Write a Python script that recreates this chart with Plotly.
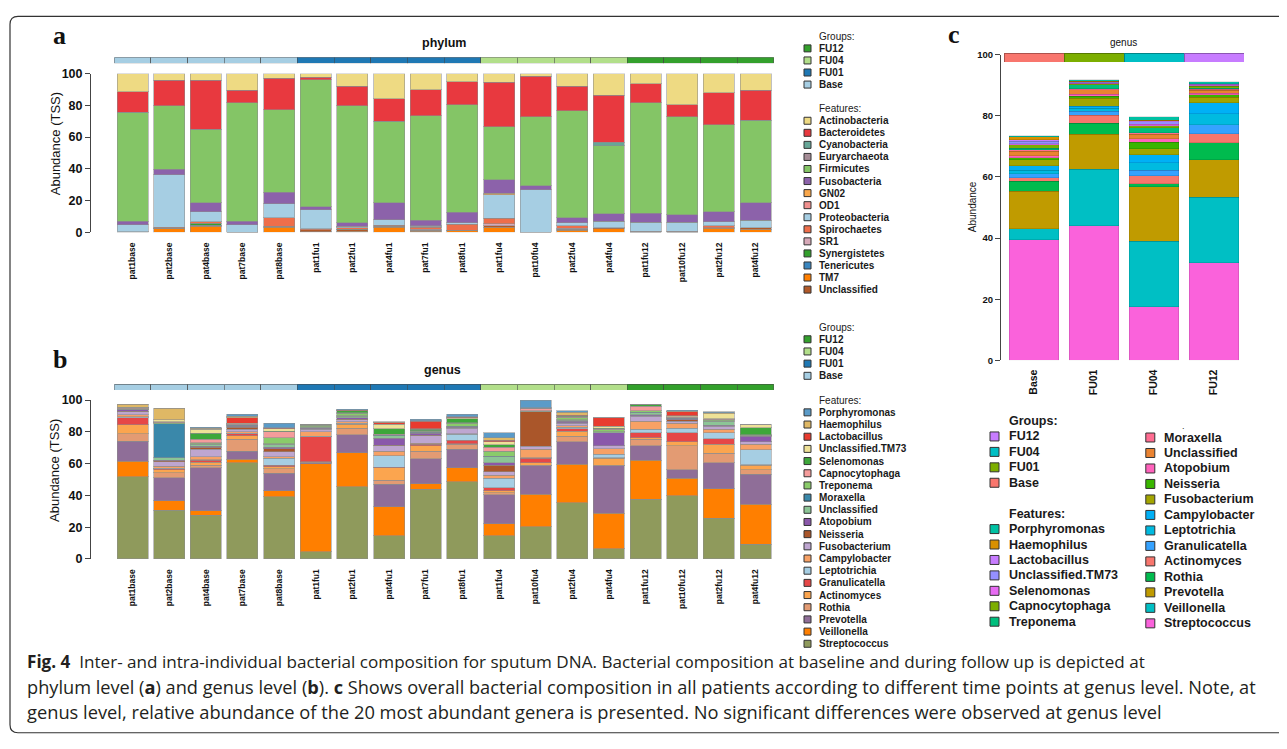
import plotly.graph_objects as go

# The figure is sized to fit the page (browser body keeps an 8px margin) and
# page-pixel positions are converted to paper fractions; the vertical
# conversion compensates the small vertical rescale seen in the screenshot.
PAGE_W, PAGE_H, MARGIN = 1287, 749, 8
W, H = PAGE_W - 2 * MARGIN, PAGE_H - 2 * MARGIN
SY, OY = 0.9817, 5.8
def fx(p): return (p - MARGIN) / W
def fy(t): return 1 - ((t - OY) / SY - MARGIN) / H

FONT = "Liberation Sans, Arial, sans-serif"

# ---------------- data ----------------
samples = ["pat1base", "pat2base", "pat4base", "pat7base", "pat8base",
           "pat1fu1", "pat2fu1", "pat4fu1", "pat7fu1", "pat8fu1",
           "pat1fu4", "pat10fu4", "pat2fu4", "pat4fu4",
           "pat1fu12", "pat10fu12", "pat2fu12", "pat4fu12"]
sample_groups = ["Base"] * 5 + ["FU01"] * 5 + ["FU04"] * 4 + ["FU12"] * 4
group_legend = ["FU12", "FU04", "FU01", "Base"]

# phylum level (panel a), relative abundance per sample
p_Actinobacteria = [11.3, 4.2, 4.3, 10.5, 2.9, 2.3, 8.0, 16.0, 10.1, 5.0, 5.5, 1.7, 8.0, 13.7, 6.5, 19.5, 12.1, 10.6]
p_Bacteroidetes = [13.1, 16.0, 30.8, 8.0, 19.8, 1.5, 12.2, 14.0, 16.6, 14.7, 28.1, 25.6, 15.5, 29.6, 11.8, 7.8, 20.1, 18.9]
p_Cyanobacteria = [0, 0, 0, 0, 0, 0, 0, 0, 0, 0, 0, 0, 0, 2.1, 0, 0, 0, 0]
p_Euryarchaeota = [0, 0, 0, 0, 0, 0, 0, 0, 0, 0, 0, 0, 0, 0, 0, 0, 0, 0]
p_Firmicutes = [68.7, 40.1, 46.5, 74.6, 52.1, 80.2, 73.9, 51.5, 65.9, 67.7, 33.4, 43.5, 67.5, 43.0, 69.7, 61.8, 54.9, 52.1]
p_Fusobacteria = [2.3, 3.4, 5.4, 2.1, 7.3, 1.9, 2.1, 10.7, 3.2, 6.7, 8.4, 2.5, 3.1, 4.7, 5.7, 4.8, 6.3, 11.0]
p_GN02 = [0, 0, 0, 0, 0, 0, 0, 0, 0, 0, 1.1, 0, 0, 0, 0, 0, 0, 0]
p_OD1 = [0, 0, 0, 0, 0, 0, 0.5, 0, 0.4, 0, 0, 0, 0, 0, 0, 0, 0, 0]
p_Proteobacteria = [4.3, 33.1, 6.5, 4.8, 8.9, 12.0, 0.5, 3.4, 0.8, 0.9, 14.7, 26.7, 2.0, 4.2, 5.7, 5.5, 2.7, 4.7]
p_Spirochaetes = [0, 0.6, 0.8, 0, 5.2, 0.6, 1.0, 0.6, 1.3, 3.7, 3.5, 0, 1.3, 0, 0, 0, 1.0, 0]
p_SR1 = [0, 0, 0, 0, 0, 0, 0, 0, 0.5, 0, 1.1, 0, 0.8, 0, 0.6, 0.6, 0, 0]
p_Synergistetes = [0, 0, 1.4, 0, 0, 0, 0.3, 0, 0, 0, 0, 0, 0, 0, 0, 0, 0, 0]
p_Tenericutes = [0, 0, 0.3, 0, 0, 0, 0, 0, 0, 0, 0, 0, 0, 0, 0, 0, 0, 0]
p_TM7 = [0, 2.3, 3.7, 0, 3.2, 0.3, 0.7, 3.2, 0.6, 0.9, 3.2, 0, 1.2, 2.1, 0, 0, 2.5, 1.7]
p_Unclassified = [0.3, 0.3, 0.3, 0, 0.6, 1.2, 0.8, 0.6, 0.6, 0.4, 1.0, 0, 0.6, 0.6, 0, 0, 0.4, 1.0]

# genus level (panel b), relative abundance per sample
g_Porphyromonas = [0.2, 0, 0.8, 1.1, 2.8, 0, 0.3, 0.3, 0.7, 1.4, 3.2, 4.8, 0.7, 0, 0, 0.5, 0.5, 0]
g_Haemophilus = [1.6, 7.1, 0.3, 1.0, 0.3, 0, 0.2, 0.2, 0.3, 0.3, 1.7, 0.2, 2.0, 0, 0, 0.3, 0.5, 0]
g_Lactobacillus = [0.2, 0, 0.3, 3.5, 0.2, 0, 0.2, 1.0, 4.9, 0.3, 1.0, 0, 0.2, 5.3, 0, 2.7, 0.2, 0]
g_UnclassifiedTM73 = [0.3, 1.4, 2.4, 0.4, 1.7, 0, 0.3, 2.7, 0.3, 0.7, 1.9, 0, 0.5, 1.4, 0, 0.4, 3.0, 1.7]
g_Selenomonas = [0.2, 0.2, 3.9, 0.3, 0.4, 0.4, 1.1, 3.6, 0.8, 2.7, 1.3, 0, 0.5, 0.6, 1.3, 0.3, 0.3, 4.6]
g_Capnocytophaga = [0.3, 0.3, 2.1, 0.4, 3.6, 0.2, 0.4, 0.3, 0.3, 0.3, 2.7, 1.5, 0.3, 0.3, 2.9, 0.4, 0.4, 0.2]
g_Treponema = [0.3, 0.6, 0.8, 0.3, 3.9, 0.8, 1.5, 0.4, 0.8, 1.9, 3.2, 0.2, 1.2, 1.2, 0.8, 0.3, 0.5, 0.2]
g_Moraxella = [0.2, 21.6, 0.3, 0.3, 0.3, 0.3, 0.2, 0.3, 0.2, 0.2, 0.3, 0.2, 0.4, 0.2, 0.3, 0.3, 0.3, 0.2]
g_Unclassified = [0.3, 1.5, 1.2, 0.3, 1.7, 0.8, 1.0, 1.5, 0.5, 0.4, 3.8, 0.2, 0.8, 0.4, 1.4, 0.3, 2.6, 0.3]
g_Atopobium = [0.8, 0.4, 0.7, 0.4, 1.0, 0.3, 1.0, 4.5, 1.3, 0.3, 1.3, 0.2, 0.9, 8.2, 0.4, 0.4, 0.3, 3.2]
g_Neisseria = [0.3, 0.6, 1.2, 1.4, 1.9, 0.3, 0.3, 0.3, 0.3, 0.3, 4.2, 21.6, 0.3, 0.2, 0.3, 0.8, 0.3, 0.3]
g_Fusobacterium = [1.9, 2.7, 4.6, 1.5, 3.1, 1.5, 1.4, 3.2, 4.6, 3.3, 2.1, 1.9, 1.5, 1.7, 3.1, 1.5, 2.0, 1.5]
g_Campylobacter = [1.4, 1.2, 2.0, 1.0, 1.1, 3.0, 0.8, 3.1, 0.4, 0.5, 2.1, 5.2, 1.0, 3.6, 5.2, 3.1, 2.1, 3.3]
g_Leptotrichia = [0.5, 0.4, 0.3, 0.3, 4.4, 0.2, 0.3, 7.1, 0.3, 3.6, 6.0, 0.3, 0.8, 2.1, 2.1, 2.7, 3.8, 9.4]
g_Granulicatella = [4.6, 0.8, 1.3, 1.4, 0.8, 15.9, 0.4, 0.3, 1.0, 2.3, 1.9, 2.9, 1.7, 0.4, 3.2, 5.7, 3.6, 0.3]
g_Actinomyces = [5.5, 1.7, 1.7, 2.1, 1.5, 0.2, 2.5, 7.9, 3.2, 0.4, 1.3, 1.8, 3.2, 4.4, 1.0, 2.7, 5.6, 2.9]
g_Rothia = [4.6, 3.1, 1.7, 7.4, 2.7, 0.2, 4.2, 2.5, 4.8, 3.1, 1.2, 0.3, 3.5, 0.4, 4.2, 14.9, 6.1, 3.0]
g_Prevotella = [12.6, 14.7, 27.2, 5.2, 11.1, 0.6, 11.1, 14.3, 15.7, 11.6, 18.1, 17.8, 14.1, 29.8, 9.0, 5.5, 16.2, 18.8]
g_Veillonella = [10.0, 5.9, 2.7, 2.1, 3.6, 55.6, 21.4, 18.2, 3.6, 8.8, 7.7, 20.4, 24.3, 22.2, 24.4, 10.9, 18.6, 25.2]
g_Streptococcus = [51.6, 30.6, 27.5, 60.6, 39.2, 4.4, 45.5, 14.5, 43.8, 48.6, 14.5, 20.3, 35.2, 6.5, 37.7, 39.8, 25.6, 9.2]

# panel c: genus level by time point
c_groups = ["Base", "FU01", "FU04", "FU12"]
c_Porphyromonas = [0.4, 0.4, 1.1, 0.6]
c_Haemophilus = [1.0, 0.2, 0.2, 0.2]
c_Lactobacillus = [0.4, 0.2, 0.4, 0.2]
c_UnclassifiedTM73 = [0.8, 0.2, 0.8, 0.2]
c_Selenomonas = [0.4, 0.3, 0.4, 0.3]
c_Capnocytophaga = [1.2, 0.2, 0.8, 0.6]
c_Treponema = [0.4, 1.3, 1.5, 0.3]
c_Moraxella = [0.5, 0.4, 0.6, 0.4]
c_Unclassified = [1.4, 1.4, 1.4, 0.9]
c_Atopobium = [0.8, 0.7, 1.1, 0.6]
c_Neisseria = [0.6, 0.6, 2.2, 0.7]
c_Fusobacterium = [2.0, 2.7, 1.9, 1.8]
c_Campylobacter = [1.5, 0.7, 2.7, 3.6]
c_Leptotrichia = [1.0, 0.9, 2.5, 3.6]
c_Granulicatella = [1.3, 1.4, 1.8, 3.0]
c_Actinomyces = [1.2, 2.6, 2.5, 2.9]
c_Rothia = [3.3, 3.6, 1.0, 5.6]
c_Prevotella = [12.2, 11.4, 17.8, 12.2]
c_Veillonella = [3.6, 18.4, 21.5, 21.5]
c_Streptococcus = [39.5, 44.1, 17.5, 31.9]

y_ticks = [0, 20, 40, 60, 80, 100]

# legend order (top -> bottom); stacking uses the reverse
phyla = [
    ("Actinobacteria", p_Actinobacteria, "#EEDA83"),
    ("Bacteroidetes", p_Bacteroidetes, "#E8393F"),
    ("Cyanobacteria", p_Cyanobacteria, "#66A697"),
    ("Euryarchaeota", p_Euryarchaeota, "#A58C96"),
    ("Firmicutes", p_Firmicutes, "#84C566"),
    ("Fusobacteria", p_Fusobacteria, "#8C62AA"),
    ("GN02", p_GN02, "#F9A74B"),
    ("OD1", p_OD1, "#F0908E"),
    ("Proteobacteria", p_Proteobacteria, "#A6CEE3"),
    ("Spirochaetes", p_Spirochaetes, "#EE6E4A"),
    ("SR1", p_SR1, "#D7A9B8"),
    ("Synergistetes", p_Synergistetes, "#33A02C"),
    ("Tenericutes", p_Tenericutes, "#3A86BF"),
    ("TM7", p_TM7, "#FF7F00"),
    ("Unclassified", p_Unclassified, "#B15928"),
]
phyla_stack = [phyla[13], phyla[14]] + phyla[12::-1]

genera = [
    ("Porphyromonas", g_Porphyromonas, "#5B9BC8"),
    ("Haemophilus", g_Haemophilus, "#DFB865"),
    ("Lactobacillus", g_Lactobacillus, "#E83B2F"),
    ("Unclassified.TM73", g_UnclassifiedTM73, "#EEE197"),
    ("Selenomonas", g_Selenomonas, "#3DA73A"),
    ("Capnocytophaga", g_Capnocytophaga, "#F59C9B"),
    ("Treponema", g_Treponema, "#8ACB6A"),
    ("Moraxella", g_Moraxella, "#3A88AA"),
    ("Unclassified", g_Unclassified, "#8CC596"),
    ("Atopobium", g_Atopobium, "#8A58AA"),
    ("Neisseria", g_Neisseria, "#AA562A"),
    ("Fusobacterium", g_Fusobacterium, "#BEA6D0"),
    ("Campylobacter", g_Campylobacter, "#F7A165"),
    ("Leptotrichia", g_Leptotrichia, "#A6CEE3"),
    ("Granulicatella", g_Granulicatella, "#E64747"),
    ("Actinomyces", g_Actinomyces, "#FBA54F"),
    ("Rothia", g_Rothia, "#E39B73"),
    ("Prevotella", g_Prevotella, "#8F6E98"),
    ("Veillonella", g_Veillonella, "#FF7F00"),
    ("Streptococcus", g_Streptococcus, "#8F9A5C"),
]

c_genera = [
    ("Porphyromonas", c_Porphyromonas, "#00C1A3"),
    ("Haemophilus", c_Haemophilus, "#D89000"),
    ("Lactobacillus", c_Lactobacillus, "#C77CFF"),
    ("Unclassified.TM73", c_UnclassifiedTM73, "#9590FF"),
    ("Selenomonas", c_Selenomonas, "#E76BF3"),
    ("Capnocytophaga", c_Capnocytophaga, "#7CAE00"),
    ("Treponema", c_Treponema, "#00BF7D"),
    ("Moraxella", c_Moraxella, "#FF6C91"),
    ("Unclassified", c_Unclassified, "#EA8331"),
    ("Atopobium", c_Atopobium, "#FF62BC"),
    ("Neisseria", c_Neisseria, "#39B600"),
    ("Fusobacterium", c_Fusobacterium, "#A3A500"),
    ("Campylobacter", c_Campylobacter, "#00B0F6"),
    ("Leptotrichia", c_Leptotrichia, "#00BAE0"),
    ("Granulicatella", c_Granulicatella, "#35A2FF"),
    ("Actinomyces", c_Actinomyces, "#F8766D"),
    ("Rothia", c_Rothia, "#00BB4E"),
    ("Prevotella", c_Prevotella, "#C09B00"),
    ("Veillonella", c_Veillonella, "#00BFC4"),
    ("Streptococcus", c_Streptococcus, "#FA62DB"),
]

grp_col_ab = {"Base": "#A6CEE3", "FU01": "#1F78B4", "FU04": "#B2DF8A", "FU12": "#33A02C"}
grp_col_c = {"Base": "#F8766D", "FU01": "#7CAE00", "FU04": "#00BFC4", "FU12": "#C77CFF"}

# ---------------- traces ----------------
fig = go.Figure()
BAR_LINE = dict(color="rgba(140,140,140,0.55)", width=1)

for name, vals, col in phyla_stack:
    fig.add_trace(go.Bar(x=samples, y=vals, name=name, marker=dict(color=col, line=BAR_LINE),
                         width=0.846, xaxis="x", yaxis="y", showlegend=False))
fig.add_trace(go.Bar(x=samples, y=[1] * len(samples), marker=dict(color=[grp_col_ab[g] for g in sample_groups],
                     line=dict(color="rgba(70,70,70,0.55)", width=1)), width=1, xaxis="x2", yaxis="y2", showlegend=False))

for name, vals, col in genera[::-1]:
    fig.add_trace(go.Bar(x=samples, y=vals, name=name, marker=dict(color=col, line=BAR_LINE),
                         width=0.846, xaxis="x3", yaxis="y3", showlegend=False))
fig.add_trace(go.Bar(x=samples, y=[1] * len(samples), marker=dict(color=[grp_col_ab[g] for g in sample_groups],
                     line=dict(color="rgba(70,70,70,0.55)", width=1)), width=1, xaxis="x4", yaxis="y4", showlegend=False))

for name, vals, col in c_genera[::-1]:
    fig.add_trace(go.Bar(x=c_groups, y=vals, name=name, marker=dict(color=col, line=dict(color="rgba(0,0,0,0.18)", width=0.6)),
                         width=0.833, xaxis="x5", yaxis="y5", showlegend=False))
fig.add_trace(go.Bar(x=c_groups, y=[1] * 4, marker=dict(color=[grp_col_c[g] for g in c_groups],
                     line=dict(color="rgba(0,0,0,0.3)", width=1)), width=1, xaxis="x6", yaxis="y6", showlegend=False))

# ---------------- axes ----------------
def cat_x(dom, anchor, cats, show, size, top_gap):
    d = dict(domain=dom, anchor=anchor, type="category", categoryorder="array", categoryarray=cats,
             range=[-0.5, len(cats) - 0.5], showgrid=False, zeroline=False, showline=False, fixedrange=True)
    if show:
        d.update(tickangle=-90, ticks="outside", ticklen=top_gap, tickcolor="rgba(0,0,0,0)",
                 tickfont=dict(family=FONT, size=size, color="#111", weight="bold"))
    else:
        d.update(showticklabels=False, ticks="")
    return d

def val_y(dom, pos, size):
    return dict(domain=dom, anchor="free", position=pos, range=[0, 100], tickvals=y_ticks,
                showline=True, linecolor="#444", linewidth=1, ticks="outside", ticklen=5, tickwidth=1,
                tickcolor="#444", showgrid=False, zeroline=False, fixedrange=True,
                tickfont=dict(family=FONT, size=size, color="#111", weight="bold"))

def strip_y(dom):
    return dict(domain=dom, range=[0, 1], visible=False, fixedrange=True)

ab_x = [fx(114.2), fx(773.9)]
c_x = [fx(1004), fx(1244)]
fig.update_layout(
    xaxis=cat_x(ab_x, "y", samples, True, 8.5, 6),
    yaxis=val_y([fy(231), fy(72.3)], fx(90), 12.5),
    xaxis2=cat_x(ab_x, "y2", samples, False, 8, 0),
    yaxis2=strip_y([fy(62), fy(56)]),
    xaxis3=cat_x(ab_x, "y3", samples, True, 8.5, 6),
    yaxis3=val_y([fy(558), fy(399)], fx(90), 12.5),
    xaxis4=cat_x(ab_x, "y4", samples, False, 8, 0),
    yaxis4=strip_y([fy(389), fy(383)]),
    xaxis5=cat_x(c_x, "y5", c_groups, True, 10.5, 4),
    yaxis5=val_y([fy(359.3), fy(53.3)], fx(1000), 9.5),
    xaxis6=cat_x(c_x, "y6", c_groups, False, 8, 0),
    yaxis6=strip_y([fy(60.7), fy(51.7)]),
)

# ---------------- annotations & legends ----------------
ann = []
shp = []

def text(x, y, s, size, color="#111", family=FONT, xanchor="center", angle=0):
    ann.append(dict(x=fx(x), y=fy(y), xref="paper", yref="paper", text=s, showarrow=False,
                    xanchor=xanchor, yanchor="middle", textangle=angle,
                    font=dict(family=family, size=size, color=color)))

# panel letters
for letter, lx, ly in [("a", 59, 34), ("b", 60, 358), ("c", 954, 33)]:
    text(lx, ly, "<b>%s</b>" % letter, 26, "#111", "Liberation Serif, Times New Roman, serif")

text(444, 42, "<b>phylum</b>", 12.5)
text(443, 369, "<b>genus</b>", 12.5)
text(1123, 41, "genus", 10)
text(55, 143, "Abundance (TSS)", 13, angle=-90)
text(55, 470, "Abundance (TSS)", 13, angle=-90)
text(972, 206, "Abundance", 10, angle=-90)

def legend(rows, y0, step, sq_cx, txt_x, sq, size):
    for i, row in enumerate(rows):
        if row is None:
            continue
        label, col = row
        y = y0 + i * step
        if col is not None:
            shp.append(dict(type="rect", xref="paper", yref="paper",
                            x0=fx(sq_cx - sq / 2), x1=fx(sq_cx + sq / 2),
                            y0=fy(y + sq / 2), y1=fy(y - sq / 2),
                            fillcolor=col, line=dict(color="#333", width=1)))
        text(txt_x, y, "<b>%s</b>" % label if col is not None else label, size, "#1a1a1a", xanchor="left")

rows_a = [("Groups:", None)] + [(g, grp_col_ab[g]) for g in group_legend] + [None, ("Features:", None)] \
         + [(n, c) for n, _, c in phyla]
legend(rows_a, 35, 12.07, 807.5, 817.5, 7, 10)

rows_b = [("Groups:", None)] + [(g, grp_col_ab[g]) for g in group_legend] + [None, ("Features:", None)] \
         + [(n, c) for n, _, c in genera]
legend(rows_b, 326, 12.19, 807.5, 817, 7, 10)

rows_c1 = [("<b>Groups:</b>", None)] + [(g, grp_col_c[g]) for g in group_legend] + [None, ("<b>Features:</b>", None)] \
          + [(n, c) for n, _, c in c_genera[:7]]
legend(rows_c1, 420, 15.45, 994.5, 1006.5, 9, 12.5)
rows_c2 = [(n, c) for n, _, c in c_genera[7:]]
legend(rows_c2, 436.5, 15.5, 1150.3, 1162.3, 9, 12.5)
text(1183, 425, ".", 9, "#333")  # stray header dot of the right legend column

# caption
CAP = "Open Sans, Noto Sans, sans-serif"
cap_lines = [
    ("<b>Fig. 4</b>&nbsp; Inter- and intra-individual bacterial composition for sputum DNA. Bacterial composition at baseline and during follow up is depicted at", 17.1),
    ("phylum level (<b>a</b>) and genus level (<b>b</b>). <b>c</b> Shows overall bacterial composition in all patients according to different time points at genus level. Note, at", 18.2),
    ("genus level, relative abundance of the 20 most abundant genera is presented. No significant differences were observed at genus level", 18.3),
]
for i, (line, size) in enumerate(cap_lines):
    text(25, 661 + i * 25, line, size, "#231F20", CAP, xanchor="left")

# rounded frame (left + top + bottom), kept inside the drawable page area
x0, xr, yt, yb, r = fx(10), fx(PAGE_W + 20), fy(15), fy(732), 8
path = "M %f,%f L %f,%f Q %f,%f %f,%f L %f,%f Q %f,%f %f,%f L %f,%f" % (
    xr, yt, fx(10 + r), yt, x0, yt, x0, fy(15 + r), x0, fy(732 - r), x0, yb, fx(10 + r), yb, xr, yb)
shp.append(dict(type="path", xref="paper", yref="paper", path=path, line=dict(color="#333", width=1.2)))

fig.update_layout(
    width=W, height=H, autosize=False, margin=dict(l=0, r=0, t=0, b=0),
    paper_bgcolor="white", plot_bgcolor="white", barmode="stack",
    annotations=ann, shapes=shp, showlegend=False,
    font=dict(family=FONT),
)

fig.write_html("out.html")
